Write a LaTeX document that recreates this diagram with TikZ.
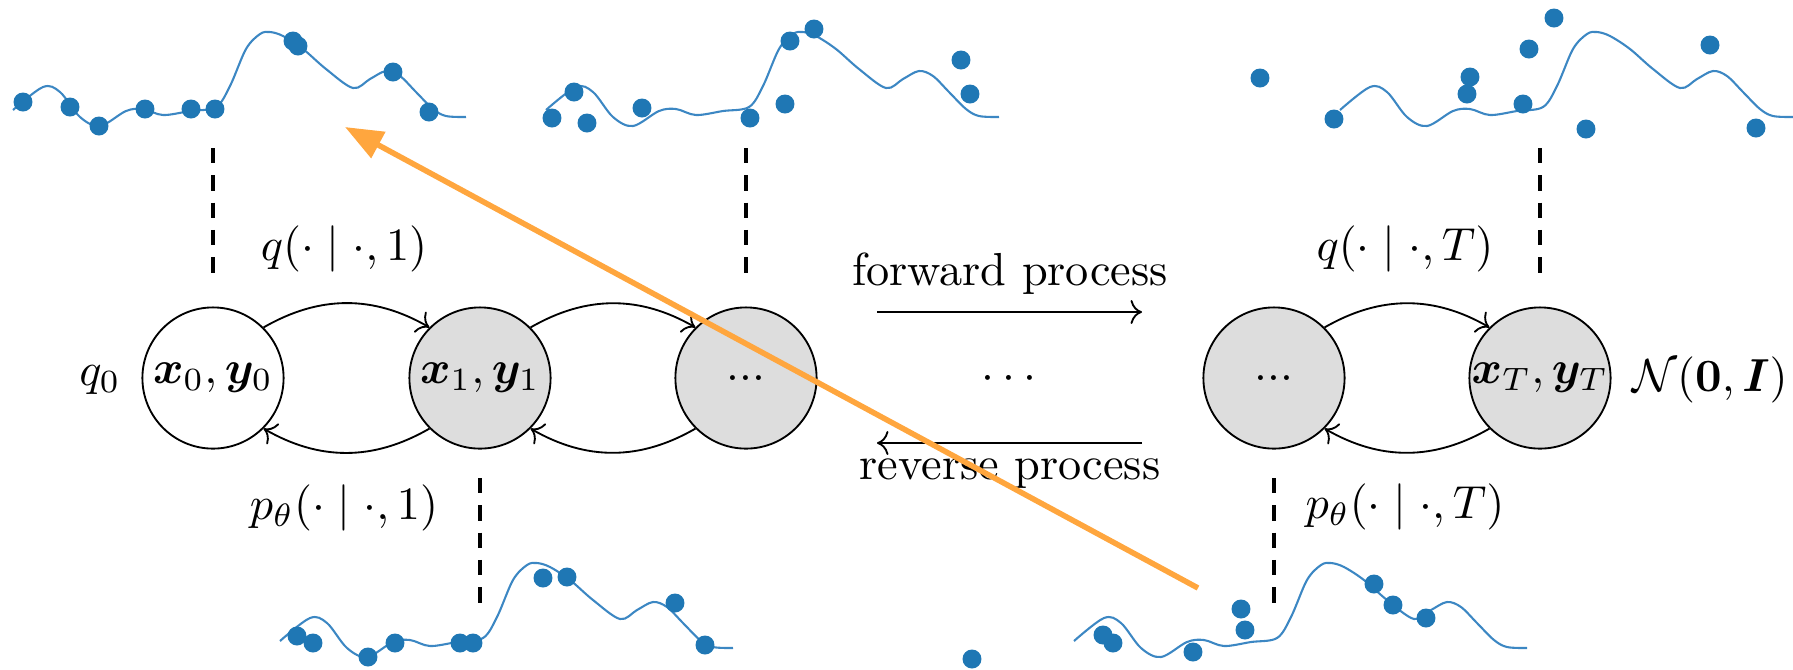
\documentclass[tikz,border=0pt]{standalone}
\usepackage{bm}
\usetikzlibrary{arrows.meta}
\definecolor{dotblue}{RGB}{31,119,180}
\definecolor{lineblue}{RGB}{60,135,195}
\definecolor{arroworange}{RGB}{255,166,62}
\definecolor{nodegray}{RGB}{221,221,221}
\newcommand{\sigcurve}[2]{%
  \draw[sigline, shift={(#1,#2)}] plot[smooth, tension=0.55] coordinates {
    (-200,641) (-170,618) (-153,623) (-133,648) (-113,657) (-87,642) (-70,640)
    (-50,646) (-23,642) (3,638) (17,617) (33,580) (47,565) (57,563) (70,567)
    (90,580) (113,600) (140,619) (157,610) (173,602) (187,607) (203,623)
    (220,640) (233,647) (253,648)};}
\tikzset{
  state/.style={circle, draw, line width=0.4pt, minimum size=30.5pt, inner sep=0pt},
  hidden/.style={state, fill=nodegray},
  trans/.style={->, line width=0.4pt},
  guide/.style={line width=0.8pt, dash pattern=on 3.3pt off 2.6pt},
  sigline/.style={lineblue, line width=0.45pt},
  sample/.style={fill=dotblue},
  txt/.style={inner sep=0pt},
  highlight/.style={arroworange, line width=1.2pt, -{Triangle[length=8.2pt,width=6.2pt]}},
}
\begin{document}
\begin{tikzpicture}[x=0.216pt, y=-0.216pt]
\useasboundingbox (0,0) rectangle (1793,669);

% noisy sample plots
\sigcurve{213}{-531}
\sigcurve{746}{-531}
\sigcurve{1540}{-531}
\sigcurve{480}{0}
\sigcurve{1274}{0}
\foreach \p in {(23,102),(70,107),(99,126),(145,109),(191,109),(215,109),(293,41),(298,46),(393,72),(429,112),
  (552,118),(574,92),(587,123),(642,108),(750,118),(785,104),(790,41),(814,29),(961,60),(970,94),
  (1260,78),(1334,119),(1470,77),(1467,94),(1529,49),(1554,18),(1523,104),(1586,129),(1710,45),(1756,128),
  (297,636),(313,643),(368,657),(395,643),(460,643),(473,643),(543,578),(567,577),(675,603),(705,645),
  (972,659),(1103,635),(1113,643),(1193,652),(1241,609),(1245,630),(1374,584),(1393,605),(1426,618)}
  \fill[sample] \p circle (2.05pt);

% states
\node[state]  (x0) at (213,378)  {$\bm{x}_0, \bm{y}_0$};
\node[hidden] (x1) at (480,378)  {$\bm{x}_1, \bm{y}_1$};
\node[hidden] (d1) at (746,378)  {...};
\node[hidden] (d2) at (1274,378) {...};
\node[hidden] (xT) at (1540,378) {$\bm{x}_T, \bm{y}_T$};
\node[txt] (q0) at (100,380) {$q_0$};
\node[txt] (prior) at (1710,380) {$\mathcal{N}(\mathbf{0}, \bm{I})$};

% transitions
\draw[trans] (x0.45) to[bend left=30] (x1.135);
\draw[trans] (x1.-135) to[bend left=30] (x0.-45);
\draw[trans] (x1.45) to[bend left=30] (d1.135);
\draw[trans] (d1.-135) to[bend left=30] (x1.-45);
\draw[trans] (d2.45) to[bend left=30] (xT.135);
\draw[trans] (xT.-135) to[bend left=30] (d2.-45);

% labels
\node[txt] (q1) at (344,249)  {$q(\cdot \mid \cdot, 1)$};
\node[txt] (p1) at (344,508)  {$p_\theta(\cdot \mid \cdot, 1)$};
\node[txt] (qT) at (1405,249) {$q(\cdot \mid \cdot, T)$};
\node[txt] (pT) at (1405,507) {$p_\theta(\cdot \mid \cdot, T)$};
\node[txt] (fwd) at (1010,274) {forward process};
\node[txt] (rev) at (1010,474) {reverse process};
\node[txt] (mid) at (1009,379) {$\cdots$};

% process arrows
\coordinate (fa) at (877,312);
\coordinate (fb) at (1142,312);
\coordinate (ra) at (1142,443);
\coordinate (rb) at (877,443);
\draw[trans] (fa) -- (fb);
\draw[trans] (ra) -- (rb);

% dashed guides
\coordinate (g0a) at (213,148);  \coordinate (g0b) at (213,278);
\coordinate (g1a) at (746,148);  \coordinate (g1b) at (746,278);
\coordinate (g2a) at (1540,148); \coordinate (g2b) at (1540,278);
\coordinate (g3a) at (480,478);  \coordinate (g3b) at (480,604);
\coordinate (g4a) at (1274,478); \coordinate (g4b) at (1274,604);
\draw[guide] (g0a) -- (g0b);
\draw[guide] (g1a) -- (g1b);
\draw[guide] (g2a) -- (g2b);
\draw[guide] (g3a) -- (g3b);
\draw[guide] (g4a) -- (g4b);

% orange overlay arrow
\coordinate (otail) at (1198,588);
\coordinate (ohead) at (345,127);
\draw[highlight] (otail) -- (ohead);
\end{tikzpicture}
\end{document}
